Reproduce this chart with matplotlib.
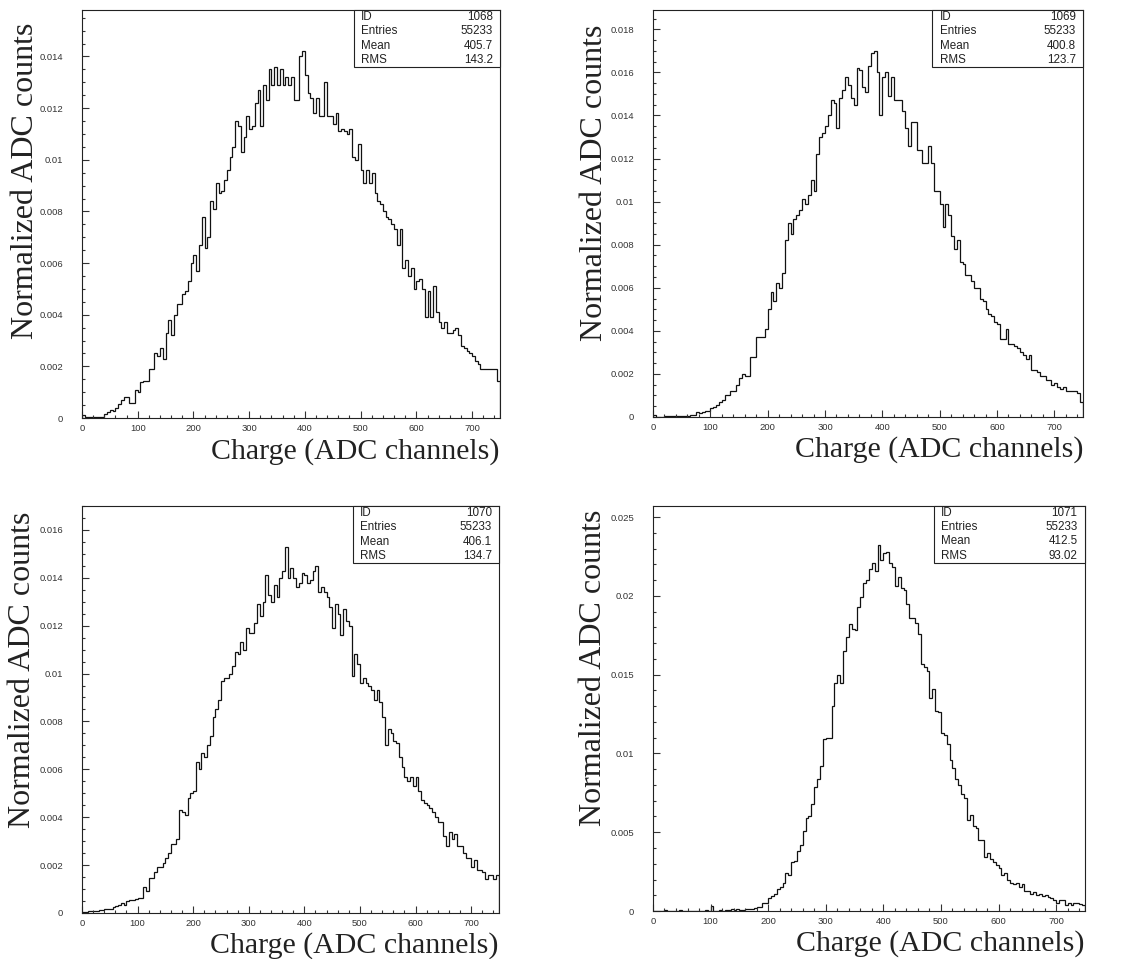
import numpy as np
import matplotlib
matplotlib.use("Agg")
import matplotlib.pyplot as plt
from matplotlib.patches import Rectangle
from matplotlib.ticker import MultipleLocator, FormatStrFormatter

# bin edges: 150 bins of 5 ADC channels, 0..750
edges = np.arange(0, 755, 5)

h1068 = [0.0001, 0.00004, 0.00004, 0.00003, 0.00003, 0.00003, 0.00003, 0.00003, 0.00017, 0.00022,
         0.0003, 0.00027, 0.0004, 0.00055, 0.00068, 0.0008, 0.0008, 0.0006, 0.0006, 0.0011,
         0.001, 0.0014, 0.00145, 0.00145, 0.0019, 0.0019, 0.0025, 0.0024, 0.0027, 0.0023,
         0.0033, 0.0038, 0.0032, 0.004, 0.0044, 0.0044, 0.0048, 0.0049, 0.0053, 0.006,
         0.0063, 0.0057, 0.0067, 0.0078, 0.0066, 0.007, 0.0084, 0.0081, 0.0091, 0.0087,
         0.0088, 0.0092, 0.0096, 0.0101, 0.0105, 0.0115, 0.0113, 0.0103, 0.0109, 0.0117,
         0.0112, 0.0113, 0.0122, 0.0127, 0.0113, 0.0129, 0.0123, 0.0135, 0.0129, 0.0136,
         0.0129, 0.0135, 0.0129, 0.0132, 0.0129, 0.0132, 0.0123, 0.0123, 0.014, 0.0142,
         0.0133, 0.0126, 0.0124, 0.0118, 0.0124, 0.0117, 0.0117, 0.013, 0.0117, 0.0117,
         0.0114, 0.0118, 0.0111, 0.0112, 0.0111, 0.011, 0.0112, 0.0101, 0.01, 0.0106,
         0.0096, 0.0091, 0.0096, 0.0091, 0.0095, 0.0087, 0.0084, 0.0083, 0.008, 0.0078,
         0.0077, 0.0075, 0.0073, 0.0067, 0.0073, 0.0058, 0.0061, 0.0055, 0.0058, 0.005,
         0.0053, 0.0054, 0.005, 0.0039, 0.0049, 0.0039, 0.0051, 0.0041, 0.0037, 0.0035,
         0.0037, 0.0033, 0.0033, 0.0034, 0.0035, 0.0032, 0.0028, 0.0027, 0.0026, 0.0025,
         0.0024, 0.0022, 0.0021, 0.0019, 0.0019, 0.0019, 0.0019, 0.0019, 0.0019, 0.00145]

h1069 = [0.0001, 0.00002, 0.00002, 0.00002, 0.00004, 0.00004, 0.00004, 0.00004, 0.00006, 0.00006,
         0.00006, 0.00003, 0.00003, 0.00008, 0.0001, 0.00025, 0.0002, 0.00025, 0.0003, 0.0003,
         0.0004, 0.00045, 0.00055, 0.0007, 0.0008, 0.001, 0.001, 0.0012, 0.0012, 0.0015,
         0.0018, 0.002, 0.0019, 0.0019, 0.0028, 0.0028, 0.0037, 0.0037, 0.0037, 0.0041,
         0.005, 0.0058, 0.0054, 0.0062, 0.006, 0.0067, 0.0082, 0.009, 0.0085, 0.0092,
         0.0094, 0.0096, 0.0101, 0.0099, 0.0103, 0.011, 0.0105, 0.0122, 0.013, 0.0132,
         0.0135, 0.014, 0.0147, 0.0146, 0.0134, 0.0148, 0.0152, 0.0158, 0.0154, 0.0148,
         0.0145, 0.0162, 0.0161, 0.0153, 0.0151, 0.0163, 0.0169, 0.017, 0.016, 0.014,
         0.0158, 0.016, 0.0149, 0.0158, 0.0147, 0.0147, 0.0147, 0.0142, 0.0134, 0.0126,
         0.0137, 0.0137, 0.0124, 0.0124, 0.0118, 0.0118, 0.0126, 0.0118, 0.0105, 0.0105,
         0.0099, 0.0088, 0.0099, 0.0094, 0.0084, 0.0078, 0.0082, 0.0072, 0.0071, 0.0066,
         0.0066, 0.0063, 0.006, 0.006, 0.0055, 0.0054, 0.005, 0.0048, 0.0047, 0.0044,
         0.0043, 0.0036, 0.0036, 0.0041, 0.0034, 0.0034, 0.0033, 0.0032, 0.003, 0.0029,
         0.0027, 0.0029, 0.0022, 0.0022, 0.0021, 0.0019, 0.0019, 0.0017, 0.0017, 0.0015,
         0.0016, 0.0014, 0.0013, 0.0014, 0.0012, 0.0012, 0.0012, 0.0012, 0.0011, 0.0007]

h1070 = [0.00002, 0.00002, 0.00007, 0.00007, 0.00007, 0.00007, 0.00014, 0.00014, 0.00017, 0.00017,
         0.00017, 0.00025, 0.0003, 0.00035, 0.0004, 0.00035, 0.0005, 0.00053, 0.00056, 0.0006,
         0.00063, 0.00063, 0.0011, 0.0009, 0.00146, 0.00146, 0.0017, 0.0019, 0.0019, 0.0021,
         0.0023, 0.0025, 0.0029, 0.0029, 0.0031, 0.0043, 0.0042, 0.0041, 0.0048, 0.005,
         0.0051, 0.0063, 0.006, 0.0067, 0.0065, 0.007, 0.0074, 0.0082, 0.0085, 0.0089,
         0.0097, 0.0098, 0.0098, 0.01, 0.0103, 0.0109, 0.0108, 0.0113, 0.011, 0.0119,
         0.0117, 0.0117, 0.0121, 0.0129, 0.0124, 0.013, 0.0141, 0.0133, 0.013, 0.0137,
         0.0132, 0.014, 0.0143, 0.0153, 0.014, 0.0144, 0.014, 0.0136, 0.0138, 0.0142,
         0.0141, 0.0138, 0.0139, 0.0143, 0.0145, 0.0134, 0.0136, 0.0134, 0.0132, 0.0128,
         0.0119, 0.0129, 0.0125, 0.0116, 0.0127, 0.0122, 0.012, 0.0099, 0.0108, 0.0104,
         0.0096, 0.0098, 0.0096, 0.0095, 0.0093, 0.0089, 0.0093, 0.0088, 0.0082, 0.007,
         0.0077, 0.0075, 0.0072, 0.0071, 0.0065, 0.0061, 0.0057, 0.0055, 0.0057, 0.0053,
         0.0057, 0.0051, 0.0047, 0.0046, 0.0045, 0.0044, 0.0042, 0.004, 0.0038, 0.0038,
         0.0032, 0.0028, 0.0034, 0.0031, 0.0033, 0.0028, 0.0028, 0.0025, 0.0023, 0.0023,
         0.0019, 0.0022, 0.0018, 0.0018, 0.0017, 0.0014, 0.0016, 0.0016, 0.0014, 0.0016]

h1071 = [0, 0, 0, 0, 0.00005, 0, 0, 0.00003, 0, 0.00005,
         0.00003, 0, 0.00003, 0, 0, 0.00003, 0.00003, 0, 0.00005, 0.00003,
         0.0003, 0.00003, 0.00003, 0.00005, 0.00003, 0.00008, 0.00005, 0.0001, 0.00008, 0.0001,
         0.00005, 0.00008, 0.0001, 0.0001, 0.0001, 0.00017, 0.00023, 0.00028, 0.0005, 0.00053,
         0.0008, 0.00095, 0.0011, 0.0014, 0.0015, 0.0018, 0.0024, 0.0023, 0.0031, 0.0032,
         0.0038, 0.0042, 0.0051, 0.0059, 0.006, 0.0068, 0.0079, 0.0084, 0.0092, 0.0109,
         0.011, 0.011, 0.013, 0.0145, 0.015, 0.0145, 0.0165, 0.0174, 0.0182, 0.0179,
         0.0178, 0.0193, 0.0199, 0.0208, 0.021, 0.0217, 0.0221, 0.0216, 0.0232, 0.0223,
         0.0227, 0.0228, 0.0221, 0.0218, 0.0206, 0.0212, 0.0205, 0.0204, 0.0195, 0.0186,
         0.0186, 0.0183, 0.0176, 0.0157, 0.0155, 0.0152, 0.0135, 0.0141, 0.0127, 0.0126,
         0.0113, 0.0112, 0.0106, 0.0096, 0.0091, 0.0084, 0.008, 0.0074, 0.0072, 0.0058,
         0.0061, 0.0054, 0.0053, 0.0045, 0.0045, 0.0034, 0.0037, 0.0033, 0.0031, 0.0029,
         0.0027, 0.0023, 0.0024, 0.002, 0.0018, 0.0017, 0.0018, 0.0015, 0.0017, 0.0013,
         0.0013, 0.0011, 0.0012, 0.001, 0.0011, 0.00095, 0.001, 0.0009, 0.00085, 0.0007,
         0.0005, 0.0007, 0.0007, 0.0004, 0.0005, 0.0004, 0.0005, 0.0005, 0.00045, 0.0004]

ids = ["1068", "1069", "1070", "1071"]
entries = ["55233", "55233", "55233", "55233"]
means = ["405.7", "400.8", "406.1", "412.5"]
rms = ["143.2", "123.7", "134.7", "93.02"]
hists = [h1068, h1069, h1070, h1071]
ymax = [0.0158, 0.0189, 0.0170, 0.0257]
ymajor = [0.002, 0.002, 0.002, 0.005]
yminor = [0.0005, 0.0005, 0.0005, 0.001]

# axes rectangles in figure fractions (left, bottom, width, height)
rects = [(0.0722, 0.5641, 0.3683, 0.4255),
         (0.5753, 0.5652, 0.3789, 0.4244),
         (0.0722, 0.0480, 0.3674, 0.4244),
         (0.5753, 0.0500, 0.3806, 0.4224)]
ylab_pos = [(-0.136, 0.968), (-0.137, 0.963), (-0.143, 0.985), (-0.137, 0.99)]
xlab_y = [-0.081, -0.079, -0.080, -0.080]

serif = ["Liberation Serif", "DejaVu Serif"]
sans = ["Liberation Sans", "DejaVu Sans"]

fig = plt.figure(figsize=(11.35, 9.59), dpi=100)

for i in range(4):
    ax = fig.add_axes(rects[i])
    ax.stairs(hists[i], edges, color="#111111", linewidth=0.9)
    ax.set_xlim(0, 750)
    ax.set_ylim(0, ymax[i])

    ax.xaxis.set_major_locator(MultipleLocator(100))
    ax.xaxis.set_minor_locator(MultipleLocator(20))
    ax.yaxis.set_major_locator(MultipleLocator(ymajor[i]))
    ax.yaxis.set_minor_locator(MultipleLocator(yminor[i]))
    ax.yaxis.set_major_formatter(FormatStrFormatter("%g"))
    ax.xaxis.set_major_formatter(FormatStrFormatter("%g"))
    ax.tick_params(which="both", direction="in", top=False, right=False,
                   color="#333333", width=0.8)
    ax.tick_params(which="major", length=5)
    ax.tick_params(which="minor", length=2.5)
    ax.tick_params(axis="y", which="major", pad=13.5)
    ax.tick_params(axis="x", which="major", pad=4)
    for lab in ax.get_xticklabels() + ax.get_yticklabels():
        lab.set_fontfamily(sans)
        lab.set_fontsize(6.8)
        lab.set_color("#333333")
    for sp in ax.spines.values():
        sp.set_linewidth(0.8)
        sp.set_color("#222222")

    # stats box
    bx, bw, bh = 0.65, 0.35, 0.14
    ax.add_patch(Rectangle((bx, 1 - bh), bw, bh, transform=ax.transAxes,
                           facecolor="white", edgecolor="#222222", linewidth=0.8,
                           zorder=5, clip_on=False))
    rows = [("ID", ids[i]), ("Entries", entries[i]), ("Mean", means[i]), ("RMS", rms[i])]
    for k, (name, val) in enumerate(rows):
        yy = 1 - bh * (7 + 14.3 * k) / 57
        ax.text(bx + 0.017, yy, name, transform=ax.transAxes, ha="left", va="center",
                fontsize=8.4, family=sans, color="#222222", zorder=6)
        ax.text(1 - 0.017, yy, val, transform=ax.transAxes, ha="right", va="center",
                fontsize=8.4, family=sans, color="#222222", zorder=6)

    ax.text(ylab_pos[i][0], ylab_pos[i][1], "Normalized ADC counts", transform=ax.transAxes,
            rotation=90, ha="center", va="top", fontsize=23, family=serif, color="#222222")
    ax.text(1.0, xlab_y[i], "Charge (ADC channels)", transform=ax.transAxes,
            ha="right", va="center", fontsize=21.5, family=serif, color="#222222")

fig.savefig("out.png", dpi=100)
